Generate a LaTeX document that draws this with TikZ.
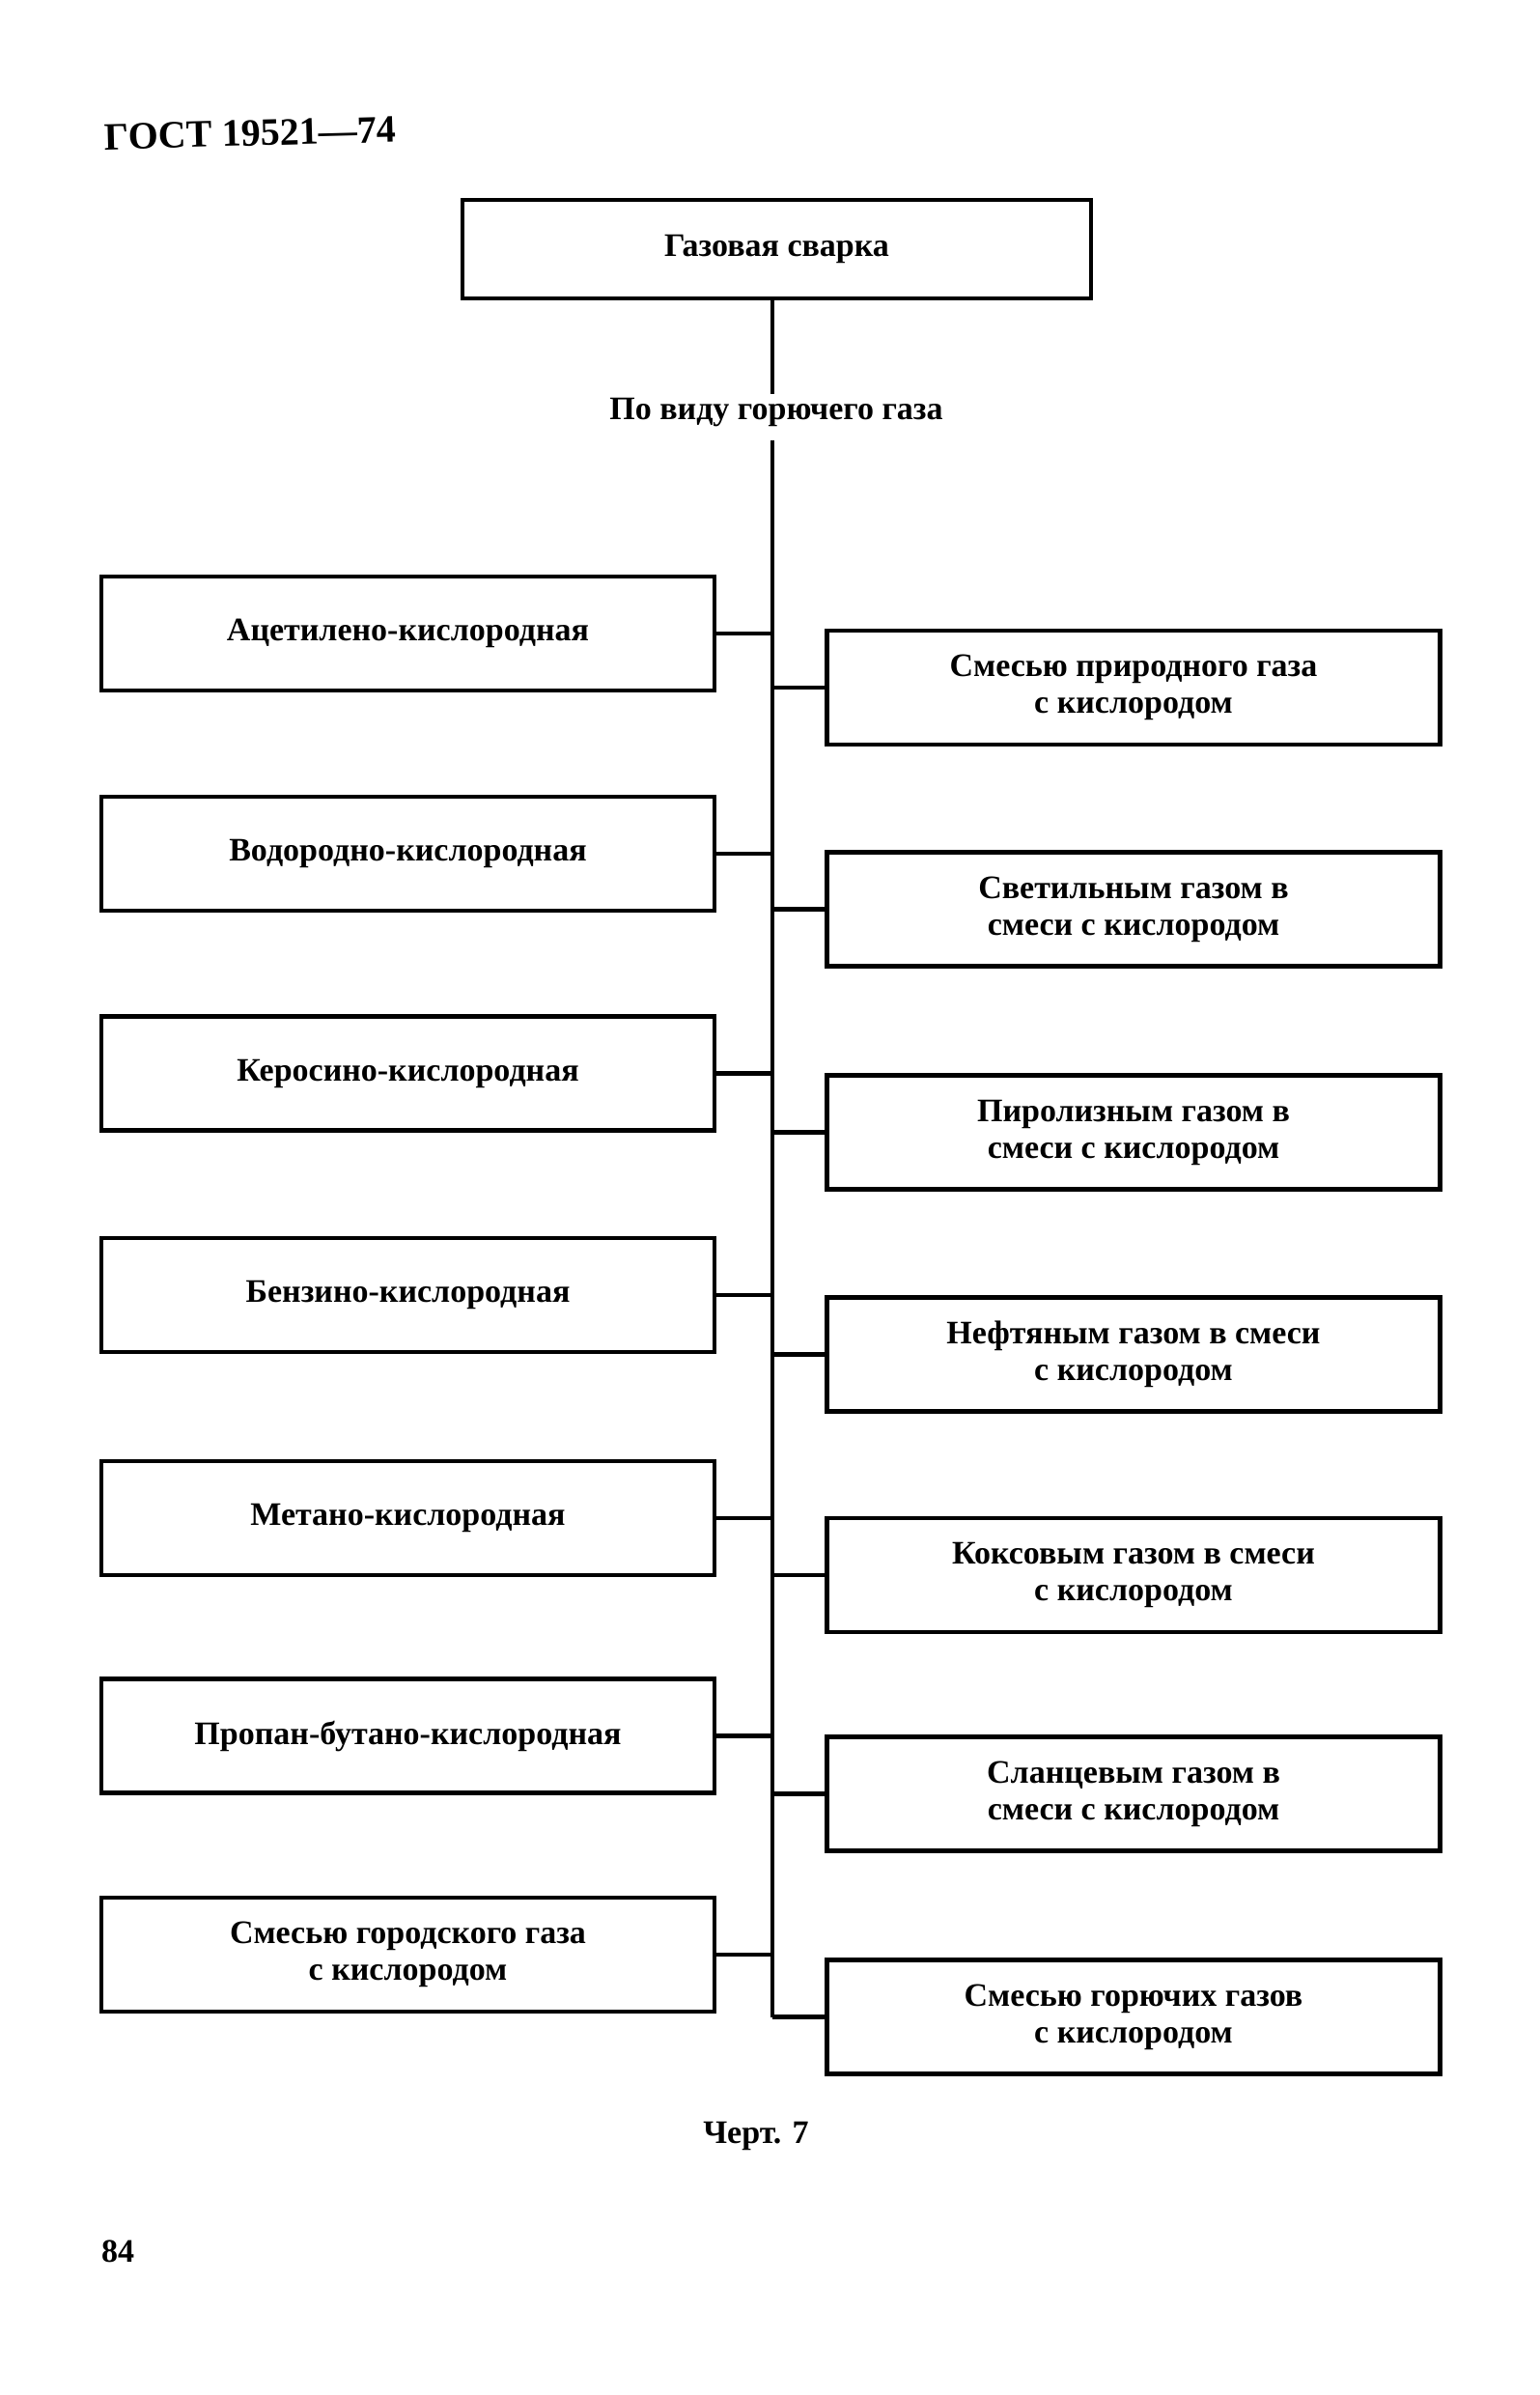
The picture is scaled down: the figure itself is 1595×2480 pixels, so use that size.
\documentclass[tikz,border=0pt]{standalone}
\usepackage{fontspec}
\setmainfont{Liberation Serif}
\begin{document}
\begin{tikzpicture}[x=0.5pt,y=-0.5pt,
  box/.style={draw, line width=2.2pt, minimum width=317.5pt, minimum height=59pt,
    align=center, inner sep=0pt, font=\bfseries\fontsize{17}{19}\selectfont},
  trunk/.style={line width=1.6pt},
  link/.style={line width=2.4pt},
  lbl/.style={inner sep=0pt, font=\bfseries\fontsize{17}{19}\selectfont}]
\useasboundingbox (0,0) rectangle (1595,2480);
\node[lbl, anchor=west, rotate=1.5, font=\bfseries\fontsize{20}{22}\selectfont] (gost) at (108,142) {ГОСТ 19521—74};
\node[box, minimum width=325.5pt, minimum height=51pt] (top) at (804.5,258) {Газовая сварка};
\node[lbl] (kind) at (804,427) {По виду горючего газа};
\coordinate (t0) at (800,309);
\coordinate (t1) at (800,408);
\coordinate (t2) at (800,456);
% left
\node[box] (L1) at (422.5,656) {Ацетилено-кислородная};
\node[box] (L2) at (422.5,884) {Водородно-кислородная};
\node[box] (L3) at (422.5,1111.5) {Керосино-кислородная};
\node[box] (L4) at (422.5,1341) {Бензино-кислородная};
\node[box] (L5) at (422.5,1572) {Метано-кислородная};
\node[box] (L6) at (422.5,1797.5) {Пропан-бутано-кислородная};
\node[box] (L7) at (422.5,2024) {Смесью городского газа\\с кислородом};
% right
\node[box] (R1) at (1174,712) {Смесью природного газа\\с кислородом};
\node[box] (R2) at (1174,941.5) {Светильным газом в\\смеси с кислородом};
\node[box] (R3) at (1174,1172.5) {Пиролизным газом в\\смеси с кислородом};
\node[box] (R4) at (1174,1402.5) {Нефтяным газом в смеси\\с кислородом};
\node[box] (R5) at (1174,1631) {Коксовым газом в смеси\\с кислородом};
\node[box] (R6) at (1174,1857.5) {Сланцевым газом в\\смеси с кислородом};
\node[box] (R7) at (1174,2088.5) {Смесью горючих газов\\с кислородом};
\coordinate (t3) at (R7.west -| t2);
\draw[trunk] (top.south -| t0) -- (t1);
\draw[trunk] (t2) -- (t3);
\foreach \n in {L1,L2,L3,L4,L5,L6,L7}{
  \draw[link] (\n.east) -- (\n.east -| t2);
}
\foreach \n in {R1,R2,R3,R4,R5,R6,R7}{
  \draw[link] (\n.west) -- (\n.west -| t2);
}
\node[lbl] (fig) at (783,2212) {Черт. 7};
\node[lbl] (page) at (122,2331) {84};
\end{tikzpicture}
\end{document}
